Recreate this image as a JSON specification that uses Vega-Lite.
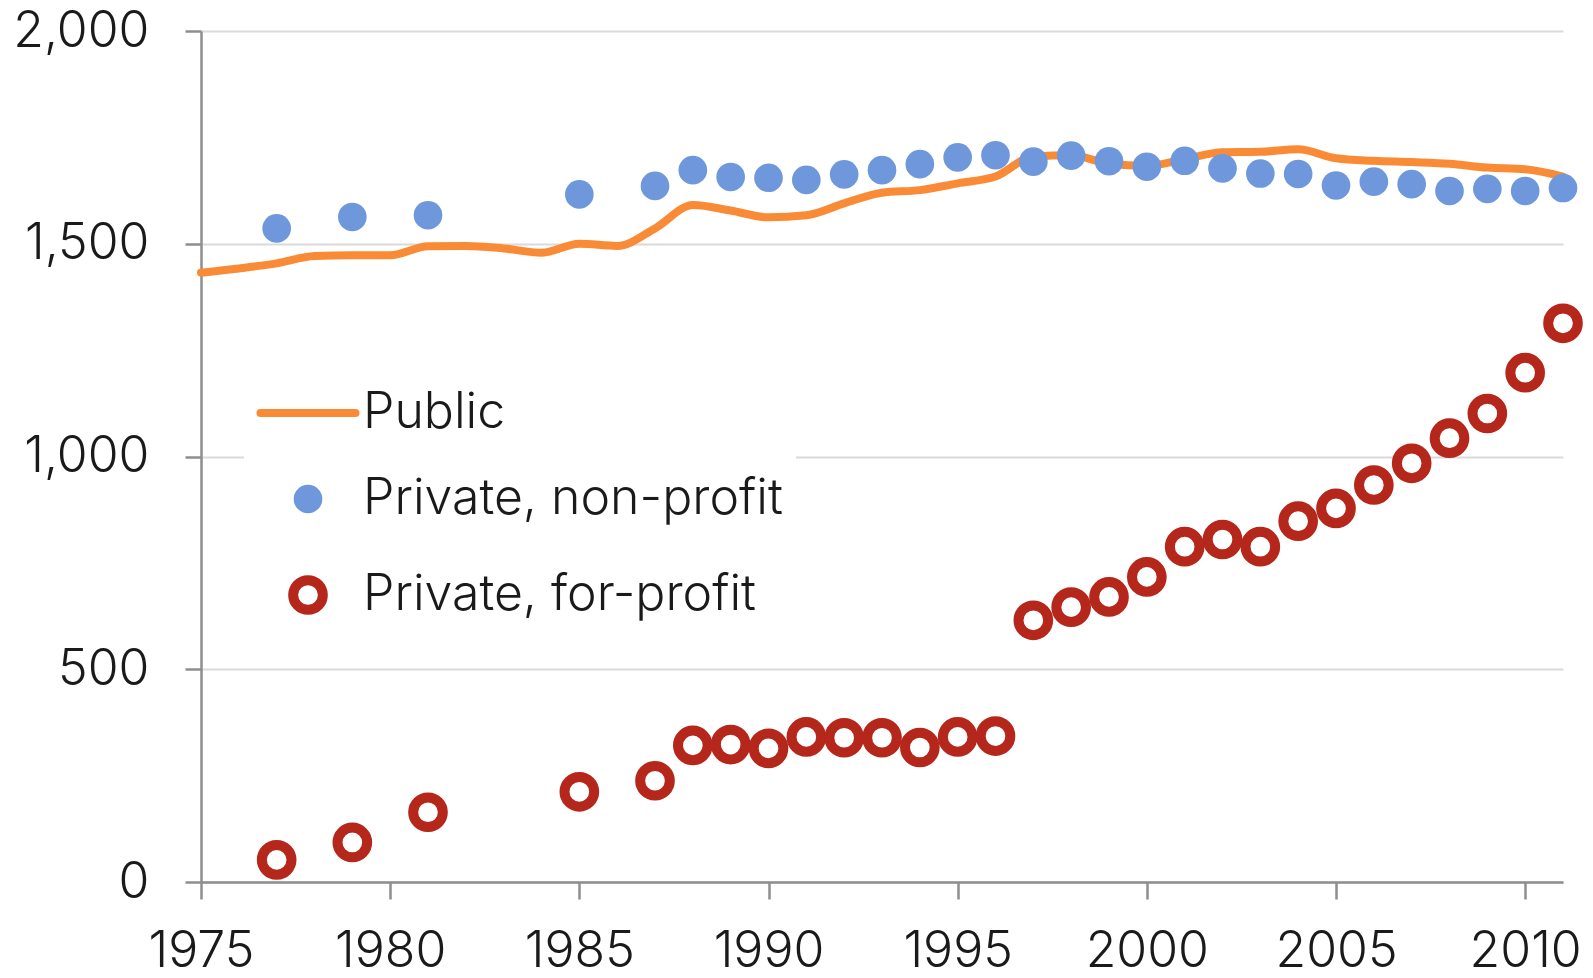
{
  "$schema": "https://vega.github.io/schema/vega-lite/v6.json",
  "width": 1362,
  "height": 851,
  "autosize": {"type": "none"},
  "padding": {"left": 201, "top": 31, "right": 30, "bottom": 96},
  "background": "white",
  "config": {
    "view": {"stroke": null},
    "font": "Inter",
    "axis": {
      "labelFont": "Inter",
      "labelFontWeight": 300,
      "labelFontSize": 50,
      "labelColor": "#1a1a1a",
      "domainColor": "#8e8e8e",
      "domainWidth": 2.5,
      "tickColor": "#8e8e8e",
      "tickWidth": 2.5,
      "gridColor": "#dadada",
      "gridWidth": 2,
      "title": null
    }
  },
  "data": {
    "values": [
      {"year": 1975, "type": "Public", "value": 1432},
      {"year": 1976, "type": "Public", "value": 1442},
      {"year": 1977, "type": "Public", "value": 1454},
      {"year": 1978, "type": "Public", "value": 1471},
      {"year": 1979, "type": "Public", "value": 1473},
      {"year": 1980, "type": "Public", "value": 1473},
      {"year": 1981, "type": "Public", "value": 1494},
      {"year": 1982, "type": "Public", "value": 1495},
      {"year": 1983, "type": "Public", "value": 1489},
      {"year": 1984, "type": "Public", "value": 1479},
      {"year": 1985, "type": "Public", "value": 1500},
      {"year": 1986, "type": "Public", "value": 1495},
      {"year": 1987, "type": "Public", "value": 1536},
      {"year": 1988, "type": "Public", "value": 1591},
      {"year": 1989, "type": "Public", "value": 1578},
      {"year": 1990, "type": "Public", "value": 1562},
      {"year": 1991, "type": "Public", "value": 1567},
      {"year": 1992, "type": "Public", "value": 1595},
      {"year": 1993, "type": "Public", "value": 1620},
      {"year": 1994, "type": "Public", "value": 1626},
      {"year": 1995, "type": "Public", "value": 1642},
      {"year": 1996, "type": "Public", "value": 1658},
      {"year": 1997, "type": "Public", "value": 1705},
      {"year": 1998, "type": "Public", "value": 1708},
      {"year": 1999, "type": "Public", "value": 1688},
      {"year": 2000, "type": "Public", "value": 1683},
      {"year": 2001, "type": "Public", "value": 1699},
      {"year": 2002, "type": "Public", "value": 1715},
      {"year": 2003, "type": "Public", "value": 1716},
      {"year": 2004, "type": "Public", "value": 1722},
      {"year": 2005, "type": "Public", "value": 1701},
      {"year": 2006, "type": "Public", "value": 1695},
      {"year": 2007, "type": "Public", "value": 1692},
      {"year": 2008, "type": "Public", "value": 1688},
      {"year": 2009, "type": "Public", "value": 1679},
      {"year": 2010, "type": "Public", "value": 1675},
      {"year": 2011, "type": "Public", "value": 1658},
      {"year": 1977, "type": "Private, non-profit", "value": 1536},
      {"year": 1979, "type": "Private, non-profit", "value": 1563},
      {"year": 1981, "type": "Private, non-profit", "value": 1567},
      {"year": 1985, "type": "Private, non-profit", "value": 1616},
      {"year": 1987, "type": "Private, non-profit", "value": 1636},
      {"year": 1988, "type": "Private, non-profit", "value": 1673},
      {"year": 1989, "type": "Private, non-profit", "value": 1657},
      {"year": 1990, "type": "Private, non-profit", "value": 1655},
      {"year": 1991, "type": "Private, non-profit", "value": 1650},
      {"year": 1992, "type": "Private, non-profit", "value": 1663},
      {"year": 1993, "type": "Private, non-profit", "value": 1673},
      {"year": 1994, "type": "Private, non-profit", "value": 1687},
      {"year": 1995, "type": "Private, non-profit", "value": 1703},
      {"year": 1996, "type": "Private, non-profit", "value": 1708},
      {"year": 1997, "type": "Private, non-profit", "value": 1693},
      {"year": 1998, "type": "Private, non-profit", "value": 1707},
      {"year": 1999, "type": "Private, non-profit", "value": 1694},
      {"year": 2000, "type": "Private, non-profit", "value": 1681},
      {"year": 2001, "type": "Private, non-profit", "value": 1695},
      {"year": 2002, "type": "Private, non-profit", "value": 1677},
      {"year": 2003, "type": "Private, non-profit", "value": 1665},
      {"year": 2004, "type": "Private, non-profit", "value": 1664},
      {"year": 2005, "type": "Private, non-profit", "value": 1637},
      {"year": 2006, "type": "Private, non-profit", "value": 1646},
      {"year": 2007, "type": "Private, non-profit", "value": 1640},
      {"year": 2008, "type": "Private, non-profit", "value": 1624},
      {"year": 2009, "type": "Private, non-profit", "value": 1629},
      {"year": 2010, "type": "Private, non-profit", "value": 1624},
      {"year": 2011, "type": "Private, non-profit", "value": 1631},
      {"year": 1977, "type": "Private, for-profit", "value": 52},
      {"year": 1979, "type": "Private, for-profit", "value": 93},
      {"year": 1981, "type": "Private, for-profit", "value": 164},
      {"year": 1985, "type": "Private, for-profit", "value": 212},
      {"year": 1987, "type": "Private, for-profit", "value": 238},
      {"year": 1988, "type": "Private, for-profit", "value": 321},
      {"year": 1989, "type": "Private, for-profit", "value": 323},
      {"year": 1990, "type": "Private, for-profit", "value": 314},
      {"year": 1991, "type": "Private, for-profit", "value": 341},
      {"year": 1992, "type": "Private, for-profit", "value": 339},
      {"year": 1993, "type": "Private, for-profit", "value": 339},
      {"year": 1994, "type": "Private, for-profit", "value": 316},
      {"year": 1995, "type": "Private, for-profit", "value": 341},
      {"year": 1996, "type": "Private, for-profit", "value": 343},
      {"year": 1997, "type": "Private, for-profit", "value": 615},
      {"year": 1998, "type": "Private, for-profit", "value": 646},
      {"year": 1999, "type": "Private, for-profit", "value": 670},
      {"year": 2000, "type": "Private, for-profit", "value": 717},
      {"year": 2001, "type": "Private, for-profit", "value": 788},
      {"year": 2002, "type": "Private, for-profit", "value": 805},
      {"year": 2003, "type": "Private, for-profit", "value": 788},
      {"year": 2004, "type": "Private, for-profit", "value": 848},
      {"year": 2005, "type": "Private, for-profit", "value": 878},
      {"year": 2006, "type": "Private, for-profit", "value": 933},
      {"year": 2007, "type": "Private, for-profit", "value": 984},
      {"year": 2008, "type": "Private, for-profit", "value": 1043},
      {"year": 2009, "type": "Private, for-profit", "value": 1101},
      {"year": 2010, "type": "Private, for-profit", "value": 1197},
      {"year": 2011, "type": "Private, for-profit", "value": 1313}
    ]
  },
  "encoding": {
    "x": {
      "field": "year",
      "type": "quantitative",
      "scale": {"domain": [1975, 2011], "nice": false, "zero": false},
      "axis": {
        "values": [1975, 1980, 1985, 1990, 1995, 2000, 2005, 2010],
        "format": "d",
        "grid": false,
        "tickSize": 17,
        "labelPadding": 27,
        "labelFlush": false,
        "labelOverlap": false
      }
    },
    "y": {
      "field": "value",
      "type": "quantitative",
      "scale": {"domain": [0, 2000], "nice": false},
      "axis": {
        "values": [0, 500, 1000, 1500, 2000],
        "format": ",d",
        "grid": true,
        "tickSize": 16,
        "labelPadding": 36,
        "labelOverlap": false
      }
    },
    "color": {
      "field": "type",
      "type": "nominal",
      "scale": {
        "domain": ["Public", "Private, non-profit", "Private, for-profit"],
        "range": ["#FA8B36", "#6F98DC", "#B5261B"]
      },
      "legend": {
        "orient": "none",
        "legendX": 43,
        "legendY": 344,
        "title": null,
        "fillColor": "white",
        "padding": 13,
        "labelFont": "Inter",
        "labelFontWeight": 300,
        "labelFontSize": 50,
        "labelColor": "#1a1a1a",
        "labelOffset": 30,
        "symbolOffset": 26,
        "labelLimit": 0,
        "rowPadding": 36,
        "symbolOpacity": 1,
        "encode": {
          "symbols": {
            "update": {
              "shape": {"signal": "datum.value === 'Public' ? 'stroke' : 'circle'"},
              "size": {"signal": "datum.value === 'Public' ? 9025 : (datum.value === 'Private, for-profit' ? 880 : 820)"},
              "strokeWidth": {"signal": "datum.value === 'Public' ? 8 : (datum.value === 'Private, for-profit' ? 10 : 0)"},
              "fill": {"signal": "datum.value === 'Public' ? 'transparent' : (datum.value === 'Private, for-profit' ? 'white' : '#6F98DC')"},
              "fillOpacity": {"signal": "datum.value === 'Private, non-profit' ? 1 : 0"},
              "stroke": {"signal": "datum.value === 'Public' ? '#FA8B36' : (datum.value === 'Private, for-profit' ? '#B5261B' : 'transparent')"},
              "strokeCap": {"value": "round"},
              "opacity": {"value": 1}
            }
          }
        }
      }
    }
  },
  "layer": [
    {
      "transform": [{"filter": "datum.type === 'Public'"}],
      "mark": {"type": "line", "interpolate": "monotone", "strokeWidth": 8, "strokeCap": "round", "strokeJoin": "round"}
    },
    {
      "transform": [{"filter": "datum.type === 'Private, non-profit'"}],
      "mark": {"type": "circle", "size": 820, "opacity": 1}
    },
    {
      "transform": [{"filter": "datum.type === 'Private, for-profit'"}],
      "mark": {"type": "point", "shape": "circle", "filled": false, "fill": "white", "size": 880, "strokeWidth": 10, "opacity": 1}
    }
  ]
}
